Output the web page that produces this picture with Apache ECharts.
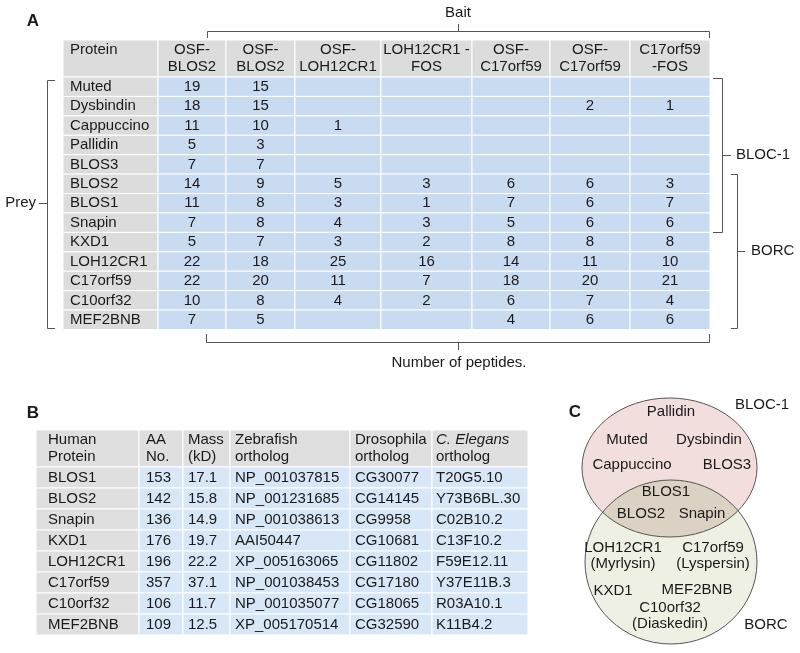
<!DOCTYPE html>
<html><head><meta charset="utf-8">
<script src="https://cdn.jsdelivr.net/npm/echarts@6/dist/echarts.min.js"></script>
<style>html,body{margin:0;padding:0;background:#fff}#c{width:800px;height:653px}</style>
</head><body><div id="c"></div>
<script>
// ---------- Panel A data ----------
const baitHeaders = ['OSF-\nBLOS2','OSF-\nBLOS2','OSF-\nLOH12CR1','LOH12CR1 -\nFOS','OSF-\nC17orf59','OSF-\nC17orf59','C17orf59\n-FOS'];
const preyProteins = ['Muted','Dysbindin','Cappuccino','Pallidin','BLOS3','BLOS2','BLOS1','Snapin','KXD1','LOH12CR1','C17orf59','C10orf32','MEF2BNB'];
const osfBlos2Run1    = [19,18,11,5,7,14,11,7,5,22,22,10,7];
const osfBlos2Run2    = [15,15,10,3,7,9,8,8,7,18,20,8,5];
const osfLoh12cr1     = [null,null,1,null,null,5,3,4,3,25,11,4,null];
const loh12cr1Fos     = [null,null,null,null,null,3,1,3,2,16,7,2,null];
const osfC17orf59Run1 = [null,null,null,null,null,6,7,5,8,14,18,6,4];
const osfC17orf59Run2 = [null,2,null,null,null,6,6,6,8,11,20,7,6];
const c17orf59Fos     = [null,1,null,null,null,3,7,6,8,10,21,4,6];
const peptideColumns = [osfBlos2Run1, osfBlos2Run2, osfLoh12cr1, loh12cr1Fos, osfC17orf59Run1, osfC17orf59Run2, c17orf59Fos];

// ---------- Panel B data ----------
const tableBHeaders = ['Human\nProtein','AA\nNo.','Mass\n(kD)','Zebrafish\northolog','Drosophila\northolog','{i|C. Elegans}\northolog'];
const humanProteins = ['BLOS1','BLOS2','Snapin','KXD1','LOH12CR1','C17orf59','C10orf32','MEF2BNB'];
const aaNo   = [153,142,136,176,196,357,106,109];
const massKD = [17.1,15.8,14.9,19.7,22.2,37.1,11.7,12.5];
const zebrafishOrtholog  = ['NP_001037815','NP_001231685','NP_001038613','AAI50447','XP_005163065','NP_001038453','NP_001035077','XP_005170514'];
const drosophilaOrtholog = ['CG30077','CG14145','CG9958','CG10681','CG11802','CG17180','CG18065','CG32590'];
const elegansOrtholog    = ['T20G5.10','Y73B6BL.30','C02B10.2','C13F10.2','F59E12.11','Y37E11B.3','R03A10.1','K11B4.2'];

// ---------- Panel C data ----------
const bloc1Only = ['Pallidin','Muted','Dysbindin','Cappuccino','BLOS3'];
const sharedSubunits = ['BLOS1','BLOS2','Snapin'];
const borcOnly = ['LOH12CR1\n(Myrlysin)','C17orf59\n(Lyspersin)','KXD1','MEF2BNB','C10orf32\n(Diaskedin)'];

// ---------- layout / style ----------
const FONT = '"Liberation Sans", Arial, Helvetica, sans-serif';
const TXT = '#1a1a1a';
const LINE = '#555';
const edgesA = [0,95,163,232,318,409,487,567,647];
const edgesB = [0,103,147,194,314,396,492];
const padB = [12,7,5,5,5,4];
const GRAY_A = '#dcdcdc', BLUE_A = '#c9dbf1';
const GRAY_B = '#dfdfdf', BLUE_B = '#d8e7f8';

// build cells
const headA = [{col:0,row:0,text:'Protein',fill:GRAY_A,align:'left',pad:7,dy:-8.5}];
baitHeaders.forEach((h,i)=>headA.push({col:i+1,row:0,text:h,fill:GRAY_A,align:'center'}));
const bodyA = [];
preyProteins.forEach((p,r)=>{
  bodyA.push({col:0,row:r,text:p,fill:GRAY_A,align:'left',pad:7});
  peptideColumns.forEach((arr,c)=>bodyA.push({col:c+1,row:r,text:arr[r]==null?'':String(arr[r]),fill:BLUE_A,align:'center'}));
});
const headB = tableBHeaders.map((h,i)=>({col:i,row:0,text:h,fill:GRAY_B,align:'left',pad:padB[i]}));
const bodyB = [];
humanProteins.forEach((p,r)=>{
  const vals=[p,String(aaNo[r]),massKD[r].toFixed(1),zebrafishOrtholog[r],drosophilaOrtholog[r],elegansOrtholog[r]];
  vals.forEach((v,c)=>bodyB.push({col:c,row:r,text:v,fill:c===0?GRAY_B:BLUE_B,align:'left',pad:padB[c]}));
});

function tableSeries(gi, edges, cells){
  return {
    type:'custom', coordinateSystem:'cartesian2d', xAxisIndex:gi, yAxisIndex:gi,
    encode:{x:0,y:1}, silent:true, animation:false,
    data: cells.map(c=>[c.col, c.row]),
    renderItem:function(params, api){
      const cell = cells[params.dataIndex];
      const r = api.value(1);
      const a = api.coord([edges[cell.col], r]);
      const b = api.coord([edges[cell.col+1], r]);
      const h = api.size([0,1])[1];
      const x0=a[0], x1=b[0], yc=a[1];
      const children=[{type:'rect',shape:{x:x0,y:yc-h/2,width:x1-x0,height:h},style:{fill:cell.fill,stroke:'#ffffff',lineWidth:1}}];
      if(cell.text!==''){
        const tx = cell.align==='center' ? (x0+x1)/2 : x0+(cell.pad||0);
        children.push({type:'text',style:{
          text:cell.text, x:tx, y:yc+(cell.dy||0),
          align:cell.align, textAlign:cell.align, verticalAlign:'middle', textVerticalAlign:'middle',
          fontSize:15, fontFamily:FONT, fill:TXT, lineHeight:17,
          rich:{i:{fontStyle:'italic',fontSize:15,fontFamily:FONT,fill:TXT,lineHeight:17}}
        }});
      }
      return {type:'group',children};
    }
  };
}

const grids = [
  {left:63,top:40,width:647,height:37},
  {left:63,top:77,width:647,height:252.5},
  {left:36,top:430,width:492,height:37},
  {left:36,top:467,width:492,height:168}
];
const xAxes = [
  {gridIndex:0,type:'value',min:0,max:edgesA[edgesA.length-1],show:false},
  {gridIndex:1,type:'value',min:0,max:edgesA[edgesA.length-1],show:false},
  {gridIndex:2,type:'value',min:0,max:edgesB[edgesB.length-1],show:false},
  {gridIndex:3,type:'value',min:0,max:edgesB[edgesB.length-1],show:false}
];
const yAxes = [
  {gridIndex:0,type:'category',data:['header'],inverse:true,show:false},
  {gridIndex:1,type:'category',data:preyProteins,inverse:true,show:false},
  {gridIndex:2,type:'category',data:['header'],inverse:true,show:false},
  {gridIndex:3,type:'category',data:humanProteins,inverse:true,show:false}
];

// ---------- graphics: brackets, labels, venn ----------
function txt(text,x,y,opt){
  opt=opt||{};
  const al=opt.align||'center';
  return {type:'text',silent:true,style:{text:text,x:x,y:y,align:al,textAlign:al,verticalAlign:'middle',textVerticalAlign:'middle',
    fontSize:opt.size||15,fontWeight:opt.bold?'bold':'normal',fontFamily:FONT,fill:TXT,lineHeight:opt.lh||16}};
}
function pl(points){return {type:'polyline',silent:true,shape:{points:points},style:{stroke:LINE,lineWidth:1,fill:null}};}

const g = [];
g.push(txt('A',33,21,{bold:true,size:17}));
g.push(txt('B',33,413,{bold:true,size:17}));
g.push(txt('C',575,412,{bold:true,size:17}));
// top bracket
g.push(pl([[207.5,38],[207.5,31.5],[709.5,31.5],[709.5,38]]));
g.push(pl([[458.5,31.5],[458.5,24]]));
g.push(txt('Bait',458,13));
// bottom bracket
g.push(pl([[206.5,334],[206.5,342.5],[709.5,342.5],[709.5,334]]));
g.push(pl([[458.5,342.5],[458.5,350]]));
g.push(txt('Number of peptides.',459,363));
// left bracket
g.push(pl([[55,80.5],[47.5,80.5],[47.5,328.5],[55,328.5]]));
g.push(pl([[47.5,203.5],[39,203.5]]));
g.push(txt('Prey',36,203,{align:'right'}));
// BLOC-1 bracket
g.push(pl([[713,78.5],[722.5,78.5],[722.5,232.5],[713,232.5]]));
g.push(pl([[722.5,155.5],[731,155.5]]));
g.push(txt('BLOC-1',736,155,{align:'left'}));
// BORC bracket
g.push(pl([[731,174.5],[737.5,174.5],[737.5,328.5],[731,328.5]]));
g.push(pl([[737.5,251.5],[745,251.5]]));
g.push(txt('BORC',751,251,{align:'left'}));

// Venn
const E1={cx:669.5,cy:467.5,rx:87.5,ry:69.5};
const E2={cx:671,cy:562,rx:86,ry:82};
function inside(e,x,y){const dx=(x-e.cx)/e.rx,dy=(y-e.cy)/e.ry;return dx*dx+dy*dy<=1;}
const lens=[];
const N=720;
for(let i=0;i<=N;i++){const t=Math.PI*i/N;const x=E1.cx+E1.rx*Math.cos(t),y=E1.cy+E1.ry*Math.sin(t);if(inside(E2,x,y))lens.push([x,y]);}
for(let i=0;i<=N;i++){const t=Math.PI+Math.PI*i/N;const x=E2.cx+E2.rx*Math.cos(t),y=E2.cy+E2.ry*Math.sin(t);if(inside(E1,x,y))lens.push([x,y]);}
g.push({type:'ellipse',silent:true,shape:E2,style:{fill:'#eef0e4',stroke:null}});
g.push({type:'ellipse',silent:true,shape:E1,style:{fill:'#f3dede',stroke:null}});
g.push({type:'polygon',silent:true,shape:{points:lens},style:{fill:'#dcd2c3',stroke:null}});
g.push({type:'ellipse',silent:true,shape:E2,style:{fill:null,stroke:LINE,lineWidth:1}});
g.push({type:'ellipse',silent:true,shape:E1,style:{fill:null,stroke:LINE,lineWidth:1}});
const bloc1Pos=[[671,412],[627,440],[709,440],[632,465],[727,465]];
const sharedPos=[[666,492],[641,514],[702,514]];
const borcPos=[[623,556],[713,556],[613,591],[697,590],[670,616]];
bloc1Only.forEach((s,i)=>g.push(txt(s,bloc1Pos[i][0],bloc1Pos[i][1])));
sharedSubunits.forEach((s,i)=>g.push(txt(s,sharedPos[i][0],sharedPos[i][1])));
borcOnly.forEach((s,i)=>g.push(txt(s,borcPos[i][0],borcPos[i][1])));
g.push(txt('BLOC-1',762,405));
g.push(txt('BORC',766,625));

const chart = echarts.init(document.getElementById('c'),null,{renderer:'canvas',width:800,height:653});
chart.setOption({
  animation:false,
  backgroundColor:'#ffffff',
  grid:grids, xAxis:xAxes, yAxis:yAxes,
  series:[tableSeries(0,edgesA,headA),tableSeries(1,edgesA,bodyA),tableSeries(2,edgesB,headB),tableSeries(3,edgesB,bodyB)],
  graphic:{elements:g}
});
</script></body></html>
